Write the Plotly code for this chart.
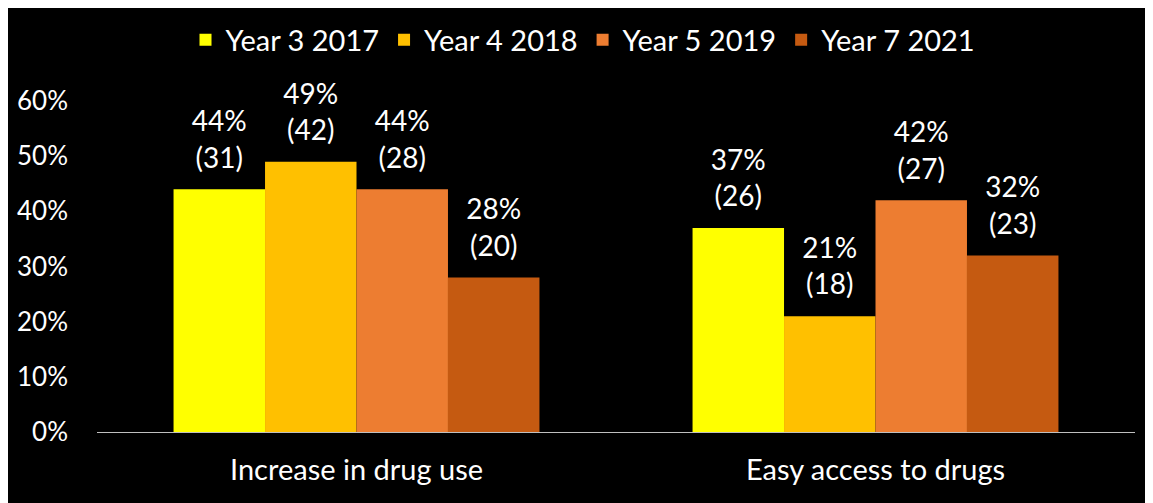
import plotly.graph_objects as go

categories = ["Increase in drug use", "Easy access to drugs"]
series_names = ["Year 3 2017", "Year 4 2018", "Year 5 2019", "Year 7 2021"]
series_pct = [[0.44, 0.37], [0.49, 0.21], [0.44, 0.42], [0.28, 0.32]]
series_counts = [[31, 26], [42, 18], [28, 27], [20, 23]]
colors = ["#FFFF00", "#FFC000", "#ED7D31", "#C55A11"]

FONT = "Lato"
OFF = 8  # default page body margin
fig = go.Figure()
for i, (name, vals, cnts, col) in enumerate(zip(series_names, series_pct, series_counts, colors)):
    fig.add_trace(go.Bar(
        x=categories, y=vals, name=name, offsetgroup=str(i),
        marker=dict(color=col, line=dict(width=0)),
    ))
for i, (name, vals, cnts) in enumerate(zip(series_names, series_pct, series_counts)):
    fig.add_trace(go.Scatter(
        x=categories, y=vals, mode="markers+text", offsetgroup=str(i),
        marker=dict(size=22, color="rgba(0,0,0,0)"),
        text=[f"{round(v*100)}%<br>({c})" for v, c in zip(vals, cnts)],
        textposition="top center", cliponaxis=False, showlegend=False, hoverinfo="skip",
        textfont=dict(color="white", size=28, family=FONT),
    ))

fig.update_layout(
    width=1153, height=503,
    paper_bgcolor="black", plot_bgcolor="black",
    barmode="group", scattermode="group", bargap=0.295, bargroupgap=0,
    margin=dict(l=97 - OFF, r=18 + OFF, t=101 - OFF, b=71 + OFF, autoexpand=False),
    font=dict(family=FONT, color="white", size=26),
    legend=dict(orientation="h", x=(583 - OFF) / 1153, xanchor="center", xref="container",
                y=1 - (40 - OFF) / 503, yanchor="middle", yref="container",
                font=dict(size=29, color="white", family=FONT), itemwidth=30,
                bgcolor="rgba(0,0,0,0)"),
)
fig.update_yaxes(range=[0, 0.6], tickformat=".0%", dtick=0.1, showgrid=False,
                 zeroline=False, showline=False, ticks="", ticklabelstandoff=28,
                 tickfont=dict(size=26, color="white", family=FONT))
fig.update_xaxes(showline=True, linecolor="#BFBFBF", linewidth=1, ticks="",
                 ticklabelstandoff=12,
                 tickfont=dict(size=29, color="white", family=FONT))
fig.write_html("out.html")
